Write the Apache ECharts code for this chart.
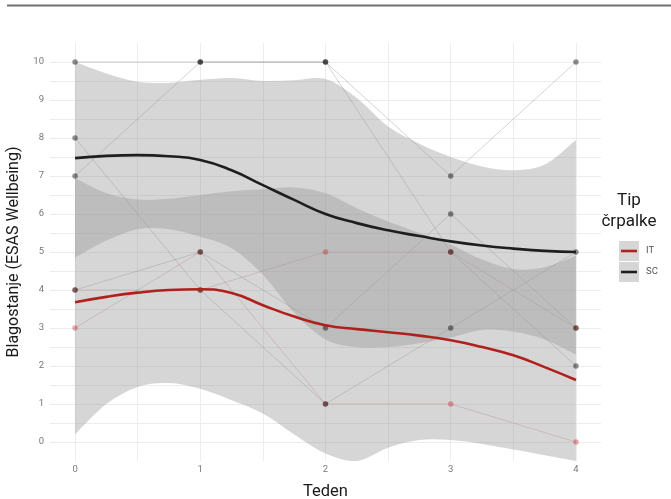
<!DOCTYPE html>
<html>
<head>
<meta charset="utf-8">
<script src="https://cdn.jsdelivr.net/npm/echarts@6/dist/echarts.min.js"></script>
<style>
  html, body { margin: 0; padding: 0; background: #ffffff; }
  #chart { width: 671px; height: 499px; }
</style>
</head>
<body>
<div id="chart"></div>
<script>
// Weekly ESAS wellbeing scores per patient, split by pump type
const weeks = [0, 1, 2, 3, 4];
const itPatients = [
  [3, 5, 1, 1, 0],
  [4, 4, 5, 5, 3]
];
const scPatients = [
  [10, 10, 10, 5, 2],
  [7, 10, 10, 7, 10],
  [8, 4, 1, 3, 5],
  [4, 5, 3, 6, 3]
];

// Smoothed trend with confidence band, sampled every quarter week
const fitX    = [0, 0.25, 0.5, 0.75, 1, 1.25, 1.5, 1.75, 2, 2.25, 2.5, 2.75, 3, 3.25, 3.5, 3.75, 4];
const itFit   = [3.68, 3.82, 3.93, 4.00, 4.02, 3.92, 3.60, 3.30, 3.07, 2.97, 2.89, 2.80, 2.68, 2.50, 2.28, 1.97, 1.63];
const itUpper = [6.95, 6.55, 6.38, 6.40, 6.50, 6.60, 6.65, 6.70, 6.55, 6.15, 5.80, 5.50, 5.20, 4.80, 4.55, 4.60, 4.90];
const itLower = [0.20, 1.00, 1.45, 1.55, 1.40, 1.10, 0.75, 0.20, -0.30, -0.50, -0.15, 0.05, 0.05, -0.05, -0.20, -0.35, -0.50];
const scFit   = [7.47, 7.53, 7.55, 7.52, 7.42, 7.15, 6.76, 6.37, 6.00, 5.76, 5.57, 5.42, 5.28, 5.17, 5.09, 5.03, 5.00];
const scUpper = [10.0, 9.70, 9.48, 9.45, 9.53, 9.58, 9.50, 9.52, 9.55, 9.05, 8.30, 7.85, 7.50, 7.25, 7.15, 7.30, 7.95];
const scLower = [4.85, 5.30, 5.60, 5.60, 5.40, 5.10, 4.40, 3.40, 2.70, 2.50, 2.50, 2.60, 2.75, 2.95, 2.90, 2.70, 2.30];

const groupNames = ['IT', 'SC'];
const xTickLabels = [0, 1, 2, 3, 4];
const yTickLabels = [0, 1, 2, 3, 4, 5, 6, 7, 8, 9, 10];
const xGridValues = [0, 0.5, 1, 1.5, 2, 2.5, 3, 3.5, 4];
const yGridValues = [0, 0.5, 1, 1.5, 2, 2.5, 3, 3.5, 4, 4.5, 5, 5.5, 6, 6.5, 7, 7.5, 8, 8.5, 9, 9.5, 10];

const IT_COLOR = '#b0201c';
const SC_COLOR = '#1e1e1e';
const BAND_FILL = 'rgba(153,153,153,0.4)';
const FONT = 'Roboto, "DejaVu Sans", sans-serif';

const pairs = (xs, ys) => xs.map((x, i) => [x, ys[i]]);

// Catmull-Rom spline through pixel points, as SVG cubic segments
function splineSegments(pts) {
  let d = '';
  for (let i = 0; i < pts.length - 1; i++) {
    const p0 = pts[Math.max(i - 1, 0)];
    const p1 = pts[i];
    const p2 = pts[i + 1];
    const p3 = pts[Math.min(i + 2, pts.length - 1)];
    const c1x = p1[0] + (p2[0] - p0[0]) / 6, c1y = p1[1] + (p2[1] - p0[1]) / 6;
    const c2x = p2[0] - (p3[0] - p1[0]) / 6, c2y = p2[1] - (p3[1] - p1[1]) / 6;
    d += ' C' + c1x + ',' + c1y + ' ' + c2x + ',' + c2y + ' ' + p2[0] + ',' + p2[1];
  }
  return d;
}

function bandSeries(lower, upper) {
  return {
    type: 'custom', coordinateSystem: 'cartesian2d', silent: true, z: 3, clip: true,
    data: [[fitX[0], lower[0]]],
    renderItem: function (params, api) {
      const up = fitX.map((x, i) => api.coord([x, upper[i]]));
      const lo = fitX.map((x, i) => api.coord([x, lower[i]])).reverse();
      const d = 'M' + up[0][0] + ',' + up[0][1] + splineSegments(up) +
        ' L' + lo[0][0] + ',' + lo[0][1] + splineSegments(lo) + ' Z';
      return { type: 'path', shape: { pathData: d }, style: { fill: BAND_FILL, stroke: null } };
    }
  };
}

const series = [];

// thin per-patient trajectories
itPatients.forEach(p => series.push({
  type: 'line', data: pairs(weeks, p), symbol: 'none', silent: true, z: 1,
  lineStyle: { color: 'rgba(178,34,34,0.28)', width: 0.8 }
}));
scPatients.forEach(p => series.push({
  type: 'line', data: pairs(weeks, p), symbol: 'none', silent: true, z: 1,
  lineStyle: { color: 'rgba(0,0,0,0.22)', width: 0.8 }
}));

// confidence bands
series.push(bandSeries(itLower, itUpper));
series.push(bandSeries(scLower, scUpper));

// observed points
series.push({
  type: 'scatter', z: 4, symbolSize: 5.5, silent: true,
  itemStyle: { color: 'rgba(200,40,40,0.5)' },
  data: itPatients.flatMap(p => pairs(weeks, p))
});
series.push({
  type: 'scatter', z: 4, symbolSize: 5.5, silent: true,
  itemStyle: { color: 'rgba(0,0,0,0.55)' },
  data: scPatients.flatMap(p => pairs(weeks, p))
});

// smoothed trend lines
series.push({
  type: 'line', data: pairs(fitX, itFit), symbol: 'none', smooth: true, silent: true, z: 5,
  lineStyle: { color: IT_COLOR, width: 2.6 }
});
series.push({
  type: 'line', data: pairs(fitX, scFit), symbol: 'none', smooth: true, silent: true, z: 5,
  lineStyle: { color: SC_COLOR, width: 2.6 }
});

const chart = echarts.init(document.getElementById('chart'), null, { renderer: 'canvas' });

chart.setOption({
  animation: false,
  backgroundColor: '#ffffff',
  textStyle: { fontFamily: FONT },
  grid: { left: 50, right: 70, top: 43, bottom: 38, containLabel: false, outerBoundsMode: 'none' },
  xAxis: {
    type: 'value', min: -0.2, max: 4.2,
    name: 'Teden', nameLocation: 'middle', nameGap: 22,
    nameTextStyle: { fontSize: 16.5, color: '#1a1a1a' },
    axisLine: { show: false },
    axisTick: { show: false, customValues: xGridValues },
    axisLabel: { customValues: xTickLabels, color: '#777', fontSize: 9.5, margin: 4 },
    splitLine: { show: true, lineStyle: { color: '#ececec', width: 1 } }
  },
  yAxis: {
    type: 'value', min: -0.5, max: 10.5,
    name: 'Blagostanje (ESAS Wellbeing)', nameLocation: 'middle', nameGap: 28,
    nameTextStyle: { fontSize: 16, color: '#1a1a1a' },
    axisLine: { show: false },
    axisTick: { show: false, customValues: yGridValues },
    axisLabel: { customValues: yTickLabels, color: '#777', fontSize: 9.5, margin: 6 },
    splitLine: { show: true, lineStyle: { color: '#ececec', width: 1 } }
  },
  series: series,
  graphic: [
    { type: 'line', shape: { x1: 7, y1: 5.5, x2: 671, y2: 5.5 }, style: { stroke: '#707070', lineWidth: 2 } },
    { type: 'text', x: 629, y: 201, style: { text: 'Tip', fontSize: 17, fill: '#1a1a1a', align: 'center', verticalAlign: 'middle', fontFamily: FONT } },
    { type: 'text', x: 629, y: 222, style: { text: 'črpalke', fontSize: 17, fill: '#1a1a1a', align: 'center', verticalAlign: 'middle', fontFamily: FONT } },
    { type: 'rect', shape: { x: 619, y: 241, width: 20, height: 20 }, style: { fill: BAND_FILL } },
    { type: 'line', shape: { x1: 621, y1: 251, x2: 637, y2: 251 }, style: { stroke: IT_COLOR, lineWidth: 2.6 } },
    { type: 'text', x: 646, y: 251, style: { text: groupNames[0], fontSize: 9.5, fill: '#555', verticalAlign: 'middle', fontFamily: FONT } },
    { type: 'rect', shape: { x: 619, y: 262, width: 20, height: 20 }, style: { fill: BAND_FILL } },
    { type: 'line', shape: { x1: 621, y1: 272, x2: 637, y2: 272 }, style: { stroke: SC_COLOR, lineWidth: 2.6 } },
    { type: 'text', x: 646, y: 272, style: { text: groupNames[1], fontSize: 9.5, fill: '#555', verticalAlign: 'middle', fontFamily: FONT } }
  ]
});
</script>
</body>
</html>
